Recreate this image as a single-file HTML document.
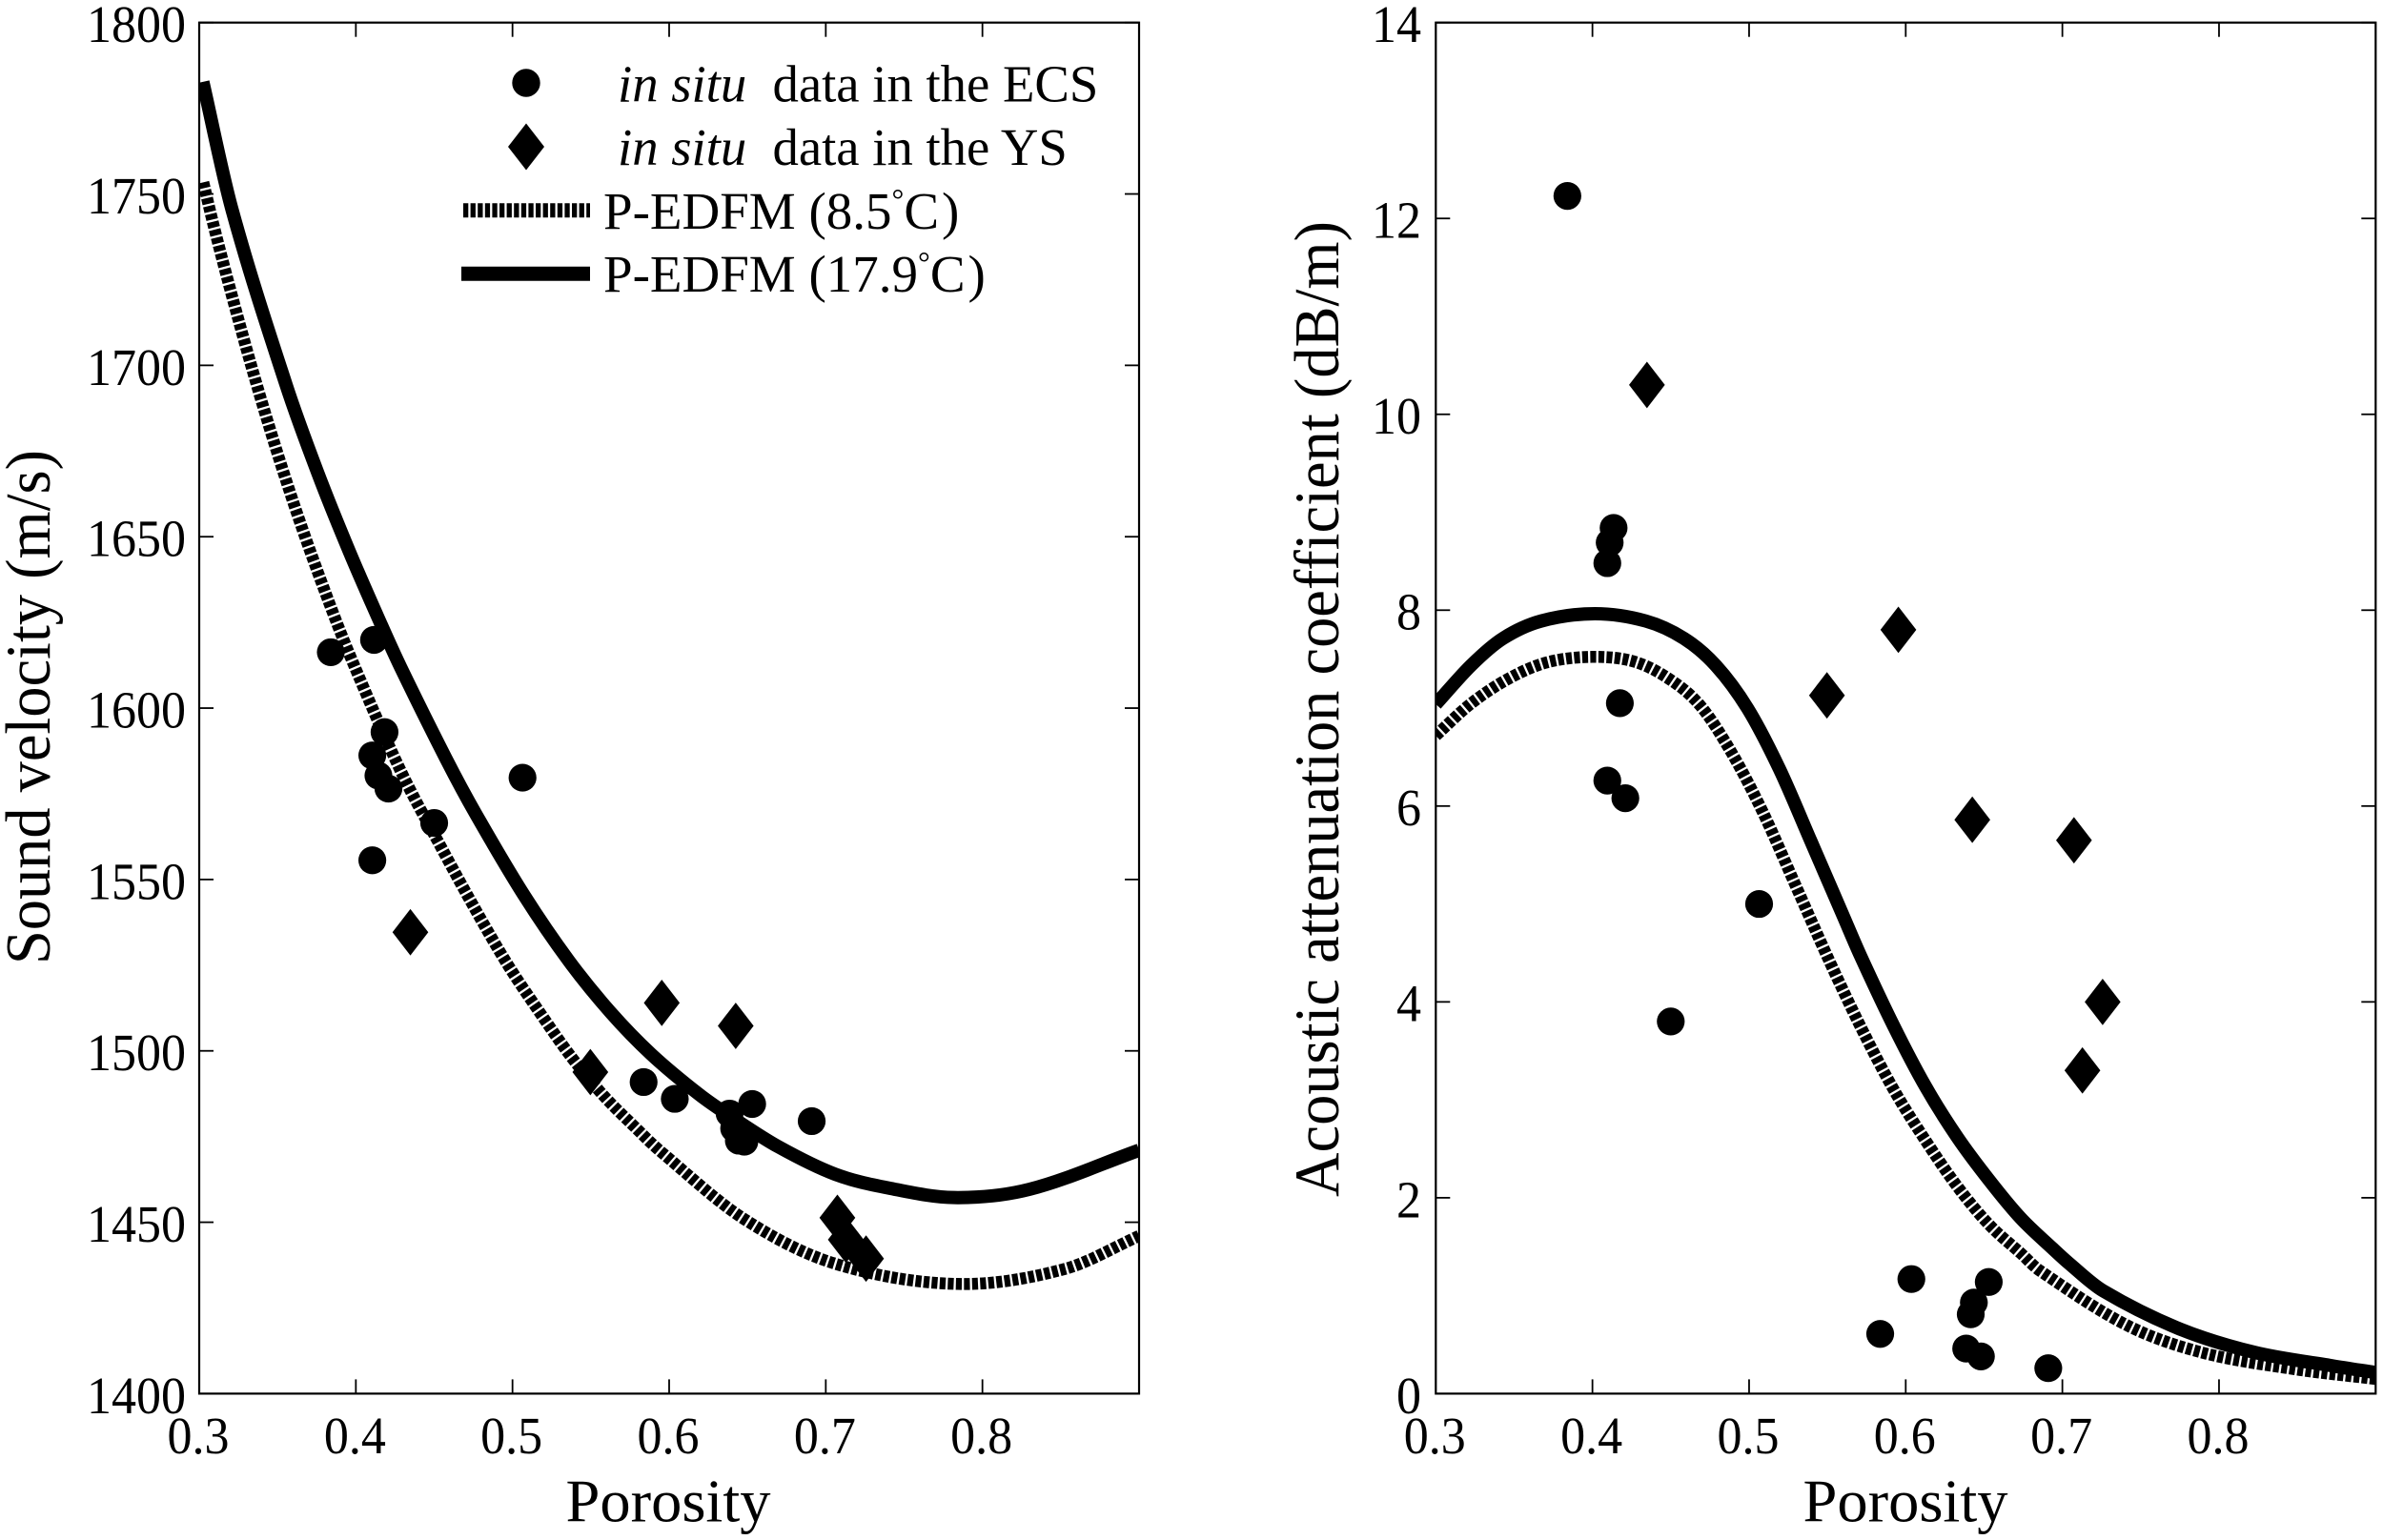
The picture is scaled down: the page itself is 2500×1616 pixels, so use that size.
<!DOCTYPE html>
<html lang="en">
<head>
<meta charset="utf-8">
<title>Sound velocity and attenuation vs porosity</title>
<style>
html,body{margin:0;padding:0;background:#fff;}
svg{display:block;}
text{font-family:"Liberation Serif","Noto Serif CJK SC",serif;fill:#000;}
</style>
</head>
<body>
<svg id="chart" xmlns="http://www.w3.org/2000/svg" width="2500" height="1616" viewBox="0 0 2500 1616">
  <rect x="0" y="0" width="2500" height="1616" fill="#fff"/>
  <defs>
    <clipPath id="clip-left"><rect x="209" y="23" width="986" height="1440"/></clipPath>
    <clipPath id="clip-right"><rect x="1506.3" y="23" width="986" height="1440"/></clipPath>
  </defs>
  <g id="left-panel"></g>
  <g id="right-panel"></g>
  <g id="legend">
    <circle cx="552" cy="87" r="14.7" fill="#000"/>
    <text x="648" y="106.5" font-size="54.7" font-style="italic">in situ</text>
    <text x="810.5" y="106.5" font-size="54.7">data in the ECS</text>
    <polygon points="552,129.5 571,154 552,178.5 533,154" fill="#000"/>
    <text x="648" y="173" font-size="54.7" font-style="italic">in situ</text>
    <text x="810.5" y="173" font-size="54.7">data in the YS</text>
    <line x1="486" y1="220.7" x2="619" y2="220.7" stroke="#000" stroke-width="15" stroke-dasharray="5.3 2.3"/>
    <text x="633" y="240" font-size="55">P-EDFM (8.5<tspan font-size="32" dy="-20">°</tspan><tspan dy="20">C</tspan><tspan dx="3">)</tspan></text>
    <line x1="484" y1="287.3" x2="619" y2="287.3" stroke="#000" stroke-width="15"/>
    <text x="633" y="306" font-size="55">P-EDFM (17.9<tspan font-size="32" dy="-20">°</tspan><tspan dy="20">C</tspan><tspan dx="3">)</tspan></text>
  </g>
</svg>
<script>
// Shared axis data
const xTickValues = [0.3, 0.4, 0.5, 0.6, 0.7, 0.8];
const xTickLabels = ['0.3', '0.4', '0.5', '0.6', '0.7', '0.8'];
const leftYTicks = [1400, 1450, 1500, 1550, 1600, 1650, 1700, 1750, 1800];
const rightYTicks = [0, 2, 4, 6, 8, 10, 12, 14];

// Measured points: East China Sea (ECS)
const ecsPorosity = [0.384, 0.4116, 0.4183, 0.4105, 0.4144, 0.4208, 0.45, 0.4105, 0.5064, 0.5837, 0.6036, 0.6386, 0.6415, 0.6445, 0.648, 0.653, 0.691];
const ecsVelocity = [1616.3, 1619.9, 1593, 1586.2, 1580.3, 1576.5, 1566.5, 1555.6, 1579.7, 1490.9, 1486, 1481.7, 1477.4, 1473.8, 1473.5, 1484.5, 1479.5];
const ecsAttenuationPorosity = [0.384, 0.4095, 0.411, 0.4135, 0.4175, 0.4095, 0.421, 0.45, 0.5064, 0.5837, 0.6036, 0.6386, 0.6415, 0.6435, 0.648, 0.653, 0.691];
const ecsAttenuation = [12.23, 8.48, 8.69, 8.84, 7.05, 6.26, 6.08, 3.8, 5.0, 0.61, 1.17, 0.46, 0.81, 0.93, 0.38, 1.14, 0.26];

// Measured points: Yellow Sea (YS)
const ysPorosity = [0.4348, 0.5497, 0.5953, 0.6425, 0.7074, 0.7128, 0.7257];
const ysVelocity = [1534.6, 1493.8, 1514, 1507.3, 1451.3, 1444.9, 1439.4];
const ysAttenuation = [10.3, 7.13, 7.8, 5.86, 5.65, 3.3, 4.0];

// Model curves
const velocity85X = [0.3026, 0.3097, 0.3209, 0.3351, 0.3493, 0.3635, 0.3798, 0.396, 0.4284, 0.4548, 0.4771, 0.4973, 0.5177, 0.5379, 0.5582, 0.5785, 0.5947, 0.648, 0.706, 0.784, 0.852, 0.9];
const velocity85Y = [1753.4, 1739.9, 1720.3, 1696.9, 1675.3, 1655.4, 1634.6, 1615.6, 1581.9, 1559.1, 1540.6, 1524.9, 1511, 1498, 1486.9, 1477.6, 1470.6, 1450.9, 1437.9, 1432, 1436.3, 1446];
const velocity179X = [0.3023, 0.3209, 0.3554, 0.3757, 0.396, 0.4163, 0.4285, 0.4576, 0.4767, 0.5075, 0.5359, 0.5623, 0.5886, 0.6191, 0.6394, 0.6698, 0.706, 0.74, 0.782, 0.83, 0.9];
const velocity179Y = [1782.7, 1745.5, 1694.4, 1668.6, 1645.5, 1624.2, 1612, 1585.2, 1569, 1545.3, 1526.3, 1511.4, 1499, 1487.3, 1480.8, 1472, 1464, 1460, 1457.2, 1459.6, 1471];
const atten85X = [0.3, 0.3225, 0.3469, 0.3712, 0.3996, 0.426, 0.4483, 0.4686, 0.4889, 0.5091, 0.5294, 0.5517, 0.572, 0.5923, 0.6126, 0.6329, 0.6532, 0.6734, 0.6856, 0.741, 0.789, 0.848, 0.9];
const atten85Y = [6.72, 7.047, 7.305, 7.468, 7.523, 7.478, 7.305, 7.03, 6.543, 5.927, 5.2, 4.402, 3.721, 3.105, 2.586, 2.116, 1.726, 1.434, 1.256, 0.7, 0.42, 0.25, 0.15];
const atten179X = [0.3, 0.3225, 0.3428, 0.3672, 0.4016, 0.4341, 0.4585, 0.4787, 0.499, 0.5193, 0.5396, 0.5598, 0.5712, 0.5923, 0.6126, 0.6329, 0.6532, 0.6734, 0.6937, 0.7039, 0.726, 0.775, 0.823, 0.872, 0.9];
const atten179Y = [7.04, 7.436, 7.711, 7.889, 7.964, 7.889, 7.711, 7.436, 6.998, 6.381, 5.636, 4.889, 4.468, 3.754, 3.137, 2.619, 2.181, 1.792, 1.483, 1.335, 1.05, 0.66, 0.42, 0.285, 0.215];

const NS = 'http://www.w3.org/2000/svg';
const TOP = 23.7, BOTTOM = 1462.4;

function make(parent, tag, attrs, txt) {
  const node = document.createElementNS(NS, tag);
  for (const k in attrs) node.setAttribute(k, attrs[k]);
  if (txt !== undefined) node.textContent = txt;
  parent.appendChild(node);
  return node;
}
function linear(d0, d1, r0, r1) {
  return v => r0 + (v - d0) / (d1 - d0) * (r1 - r0);
}
function splinePath(xs, ys, sx, sy) {
  const p = xs.map((x, i) => [sx(x), sy(ys[i])]);
  const n = p.length;
  const slope = i => {
    const a = p[Math.max(0, i - 1)], b = p[Math.min(n - 1, i + 1)];
    return (b[1] - a[1]) / (b[0] - a[0]);
  };
  let d = 'M' + p[0][0].toFixed(2) + ' ' + p[0][1].toFixed(2);
  for (let i = 0; i < n - 1; i++) {
    const h = (p[i + 1][0] - p[i][0]) / 3;
    const c1x = p[i][0] + h, c1y = p[i][1] + slope(i) * h;
    const c2x = p[i + 1][0] - h, c2y = p[i + 1][1] - slope(i + 1) * h;
    d += 'C' + c1x.toFixed(2) + ' ' + c1y.toFixed(2) + ' ' + c2x.toFixed(2) + ' ' + c2y.toFixed(2) + ' ' + p[i + 1][0].toFixed(2) + ' ' + p[i + 1][1].toFixed(2);
  }
  return d;
}

function drawFrame(g, left, right, sx, sy, yTicks, labelRight, xTitleX, prefix) {
  const box = make(g, 'rect', {x: left, y: TOP, width: right - left, height: BOTTOM - TOP, fill: 'none', stroke: '#000', 'stroke-width': 2.2});
  
  
  xTickValues.forEach((v, i) => {
    const x = sx(v);
    if (i > 0) {
      const tb = make(g, 'line', {x1: x, x2: x, y1: BOTTOM, y2: BOTTOM - 15, stroke: '#000', 'stroke-width': 1.8});
      
      
      const tt = make(g, 'line', {x1: x, x2: x, y1: TOP, y2: TOP + 15, stroke: '#000', 'stroke-width': 1.8});
      
      
    }
    const lab = make(g, 'text', {x: x - 1, y: 1525, 'font-size': 55, 'text-anchor': 'middle', textLength: 65, lengthAdjust: 'spacingAndGlyphs'}, xTickLabels[i]);
    
    
  });
  yTicks.forEach(v => {
    const y = sy(v);
    const tl = make(g, 'line', {x1: left, x2: left + 15, y1: y, y2: y, stroke: '#000', 'stroke-width': 1.8});
    
    
    const tr = make(g, 'line', {x1: right, x2: right - 15, y1: y, y2: y, stroke: '#000', 'stroke-width': 1.8});
    
    
    const label = String(v);
    const lab = make(g, 'text', {x: labelRight, y: y + 20.4, 'font-size': 55, 'text-anchor': 'end', textLength: label.length * 26, lengthAdjust: 'spacingAndGlyphs'}, label);
    
    
  });
  const title = make(g, 'text', {x: xTitleX, y: 1596.5, 'font-size': 63, 'text-anchor': 'middle', textLength: 215, lengthAdjust: 'spacingAndGlyphs'}, 'Porosity');
  
  
}

function drawCurve(g, xs, ys, sx, sy, clip, dashed, name) {
  const attrs = {d: splinePath(xs, ys, sx, sy), fill: 'none', stroke: '#000', 'stroke-width': dashed ? 12.5 : 14, 'clip-path': 'url(#' + clip + ')'};
  if (dashed) attrs['stroke-dasharray'] = '6.2 2.3';
  const path = make(g, 'path', attrs);
  
  
}
function drawCircles(g, xs, ys, sx, sy, name) {
  xs.forEach((v, i) => {
    const c = make(g, 'circle', {cx: sx(v), cy: sy(ys[i]), r: 14.6, fill: '#000'});
    
    
  });
}
function drawDiamonds(g, xs, ys, sx, sy, name) {
  xs.forEach((v, i) => {
    const x = sx(v), y = sy(ys[i]);
    const pts = [[x, y - 24.4], [x + 18.8, y], [x, y + 24.4], [x - 18.8, y]].map(p => p.join(',')).join(' ');
    const d = make(g, 'polygon', {points: pts, fill: '#000'});
    
    
  });
}

// Left panel
const leftG = document.getElementById('left-panel');
const xLeft = linear(0.3, 0.9, 209, 1195);
const yLeft = linear(1400, 1800, BOTTOM, TOP);
drawCurve(leftG, velocity179X, velocity179Y, xLeft, yLeft, 'clip-left', false, 'velocity-curve-17-9c');
drawCurve(leftG, velocity85X, velocity85Y, xLeft, yLeft, 'clip-left', true, 'velocity-curve-8-5c');
drawFrame(leftG, 209, 1195, xLeft, yLeft, leftYTicks, 195, 701, 'velocity');
drawCircles(leftG, ecsPorosity, ecsVelocity, xLeft, yLeft, 'velocity-ecs-point');
drawDiamonds(leftG, ysPorosity, ysVelocity, xLeft, yLeft, 'velocity-ys-point');
const leftTitle = make(leftG, 'text', {x: 0, y: 0, 'font-size': 67, 'text-anchor': 'middle', textLength: 540, lengthAdjust: 'spacingAndGlyphs', transform: 'translate(52 742) rotate(-90)'}, 'Sound velocity (m/s)');



// Right panel
const rightG = document.getElementById('right-panel');
const xRight = linear(0.3, 0.9, 1506.3, 2492.3);
const yRight = linear(0, 14, BOTTOM, TOP);
drawCurve(rightG, atten179X, atten179Y, xRight, yRight, 'clip-right', false, 'attenuation-curve-17-9c');
drawCurve(rightG, atten85X, atten85Y, xRight, yRight, 'clip-right', true, 'attenuation-curve-8-5c');
drawFrame(rightG, 1506.3, 2492.3, xRight, yRight, rightYTicks, 1491, 1999, 'attenuation');
drawCircles(rightG, ecsAttenuationPorosity, ecsAttenuation, xRight, yRight, 'attenuation-ecs-point');
drawDiamonds(rightG, ysPorosity, ysAttenuation, xRight, yRight, 'attenuation-ys-point');
const rightTitle = make(rightG, 'text', {x: 0, y: 0, 'font-size': 67, 'text-anchor': 'middle', textLength: 1024, lengthAdjust: 'spacingAndGlyphs', transform: 'translate(1404 744) rotate(-90)'}, 'Acoustic attenuation coefficient (dB/m)');


</script>
</body>
</html>
